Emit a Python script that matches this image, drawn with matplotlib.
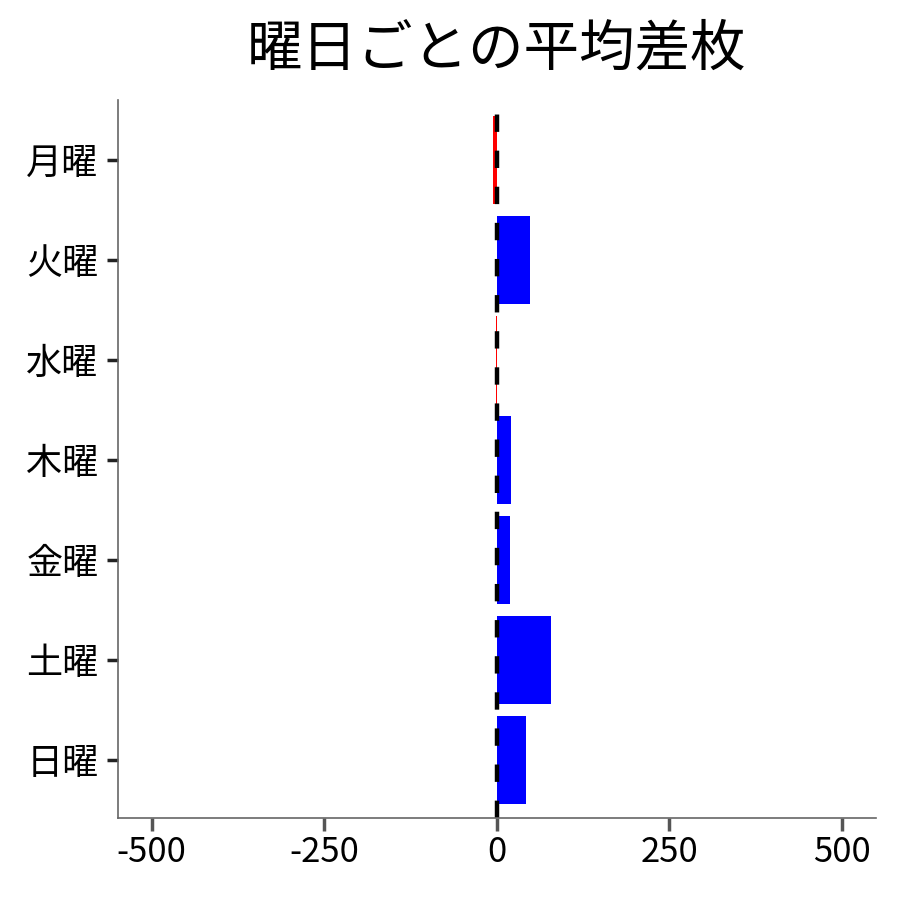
import matplotlib
matplotlib.use("Agg")
import matplotlib.pyplot as plt
import numpy as np

plt.rcParams['font.family'] = ['Noto Sans CJK JP', 'DejaVu Sans']
plt.rcParams['lines.scale_dashes'] = False

days = ["月曜", "火曜", "水曜", "木曜", "金曜", "土曜", "日曜"]
avg_diff = [-5, 48, -1, 21, 19, 79, 43]
xticks = [-500, -250, 0, 250, 500]

colors = ["red" if v < 0 else "blue" for v in avg_diff]

fig = plt.figure(figsize=(9, 9), dpi=100)
ax = fig.add_axes([0.131, 0.091, 0.842, 0.798])

y = np.arange(len(days))
ax.barh(y, avg_diff, height=0.88, color=colors)
ax.axvline(0, color="black", lw=3.2, linestyle=(0, (12.5, 13.5)))

ax.set_yticks(y)
ax.set_yticklabels(days, fontsize=26)
ax.set_xticks(xticks)
ax.set_xticklabels([str(t) for t in xticks], fontsize=25)
ax.set_xlim(-549, 549)
ax.set_ylim(len(days) - 0.42, -0.6)

for s in ["top", "right"]:
    ax.spines[s].set_visible(False)
for s in ["left", "bottom"]:
    ax.spines[s].set_color("#666666")
    ax.spines[s].set_linewidth(1.2)
ax.tick_params(axis="y", length=8, width=2.5, color="#222222", pad=6)
ax.tick_params(axis="x", length=9, width=2.5, color="#555555", pad=3)

ax.set_title("曜日ごとの平均差枚", fontsize=40, pad=25)

fig.savefig("out.png", dpi=100)
